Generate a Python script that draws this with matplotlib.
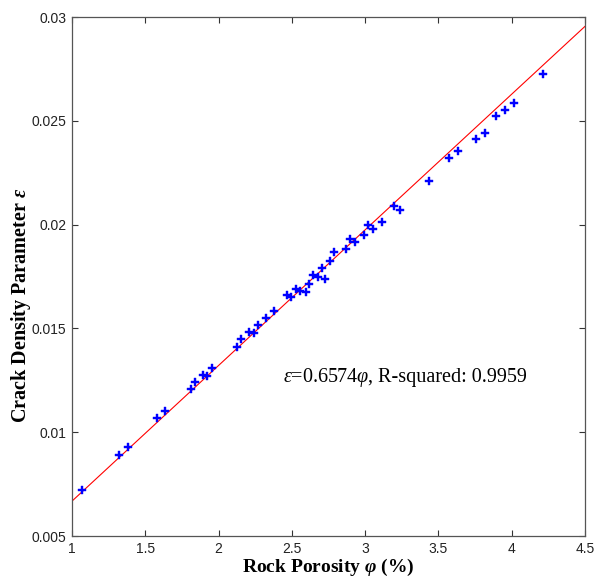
import matplotlib
matplotlib.use("Agg")
import matplotlib.pyplot as plt

porosity = [1.070, 1.323, 1.384, 1.582, 1.637, 1.814, 1.841, 1.892, 1.923, 1.953,
            2.124, 2.151, 2.210, 2.240, 2.269, 2.324, 2.378, 2.467, 2.496, 2.526,
            2.558, 2.599, 2.617, 2.644, 2.676, 2.704, 2.724, 2.760, 2.790, 2.871,
            2.899, 2.933, 2.992, 3.017, 3.052, 3.117, 3.195, 3.236, 3.434, 3.572,
            3.636, 3.756, 3.816, 3.895, 3.954, 4.018, 4.216]
crack_density = [0.00722, 0.00892, 0.00929, 0.01067, 0.01104, 0.01208, 0.01240, 0.01277,
                 0.01272, 0.01311, 0.01409, 0.01450, 0.01484, 0.01478, 0.01516, 0.01549,
                 0.01582, 0.01659, 0.01650, 0.01691, 0.01682, 0.01675, 0.01714, 0.01756,
                 0.01746, 0.01790, 0.01737, 0.01823, 0.01870, 0.01882, 0.01931, 0.01916,
                 0.01948, 0.01997, 0.01977, 0.02011, 0.02091, 0.02072, 0.02211, 0.02321,
                 0.02353, 0.02411, 0.02443, 0.02522, 0.02551, 0.02584, 0.02725]
fit_x = [1.0, 4.5]
fit_y = [0.00668, 0.02955]
xticks = [1, 1.5, 2, 2.5, 3, 3.5, 4, 4.5]
xtick_labels = ["1", "1.5", "2", "2.5", "3", "3.5", "4", "4.5"]
yticks = [0.005, 0.01, 0.015, 0.02, 0.025, 0.03]
ytick_labels = ["0.005", "0.01", "0.015", "0.02", "0.025", "0.03"]

plt.rcParams['mathtext.fontset'] = 'custom'
plt.rcParams['mathtext.rm'] = 'Liberation Serif'
plt.rcParams['mathtext.it'] = 'Liberation Serif:italic'
plt.rcParams['mathtext.bf'] = 'Liberation Serif:bold:italic'

fig = plt.figure(figsize=(5.98, 5.77), dpi=100)
ax = fig.add_axes([72/598, 1-536/577, (585-72)/598, (536-17)/577])

ax.plot(fit_x, fit_y, color='#ff0000', lw=0.8, zorder=2)
ax.plot(porosity, crack_density, linestyle='none', marker='P', markersize=5.5,
        color='#0000ff', markeredgewidth=0.3, zorder=3)

ax.set_xlim(1, 4.5)
ax.set_ylim(0.005, 0.03)
ax.set_xticks(xticks)
ax.set_xticklabels(xtick_labels)
ax.set_yticks(yticks)
ax.set_yticklabels(ytick_labels)
ax.tick_params(direction='in', length=4, width=0.8, top=True, right=True,
               labelsize=10, colors='#333333', labelcolor='#222222', pad=4)
for lbl in ax.get_xticklabels() + ax.get_yticklabels():
    lbl.set_family('Liberation Sans')
for s in ax.spines.values():
    s.set_color('#555555')
    s.set_linewidth(0.9)

ax.set_xlabel(r'Rock Porosity $\mathbf{φ}$ (%)', family='Liberation Serif',
              fontweight='bold', fontsize=14, labelpad=1)
ax.set_ylabel(r'Crack Density Parameter $\mathbf{ε}$', family='Liberation Serif',
              fontweight='bold', fontsize=14.5)
ax.yaxis.set_label_coords(-0.076, 0.445)

base_y = 1 - 382 / 577
t1 = fig.text(283 / 598, base_y, r'$\mathit{ε}$=0.6574$\mathit{φ}$,',
              family='Liberation Serif', fontsize=14.5, va='baseline', ha='left')
fig.canvas.draw()
w = t1.get_window_extent().width
fig.text((283 + w) / 598, base_y, ' R-squared: 0.9959',
         family='Liberation Serif', fontsize=14.5, va='baseline', ha='left')

fig.savefig('out.png', dpi=100)
